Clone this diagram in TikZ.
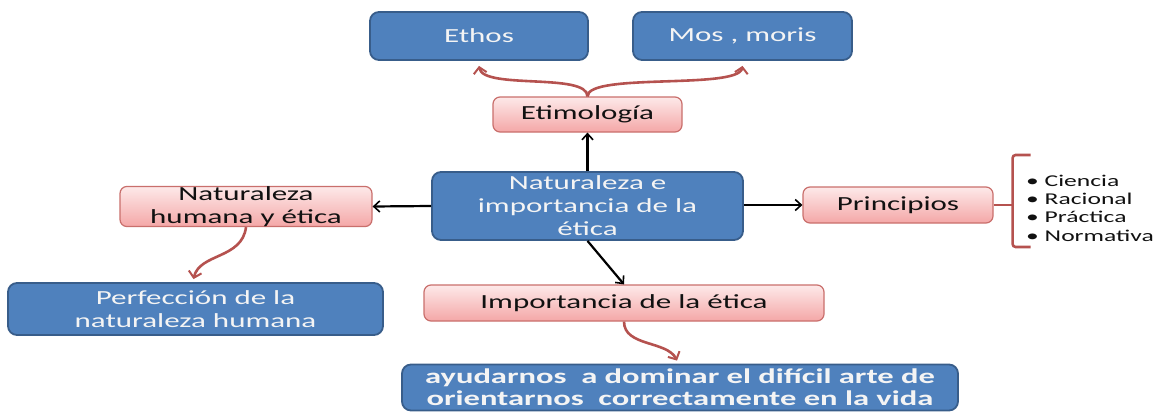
\documentclass[tikz,border=0pt]{standalone}
\usepackage{fontspec}
\setmainfont[FakeStretch=1.55]{Carlito}
\usetikzlibrary{arrows.meta}
\definecolor{color_box_blue}{HTML}{4F81BD}
\definecolor{color_box_blue_edge}{HTML}{385D8A}
\definecolor{color_box_pink_top}{HTML}{FDE9E9}
\definecolor{color_box_pink_bottom}{HTML}{F4A7A7}
\definecolor{color_box_pink_edge}{HTML}{C96F6C}
\definecolor{color_link_red}{HTML}{B5524F}
\definecolor{color_text_dark}{HTML}{111111}
\definecolor{color_text_light}{HTML}{F4F4F4}
\def\boxedgewidth{1.8pt}
\def\linkwidth{2.6pt}
\def\boxtextsize{\fontsize{20}{23}\selectfont}
\def\listtextsize{\fontsize{16.5}{18.4}\selectfont}

\begin{document}
\begin{tikzpicture}[x=1pt,y=-1pt,
    bluebox/.style={draw=color_box_blue_edge,fill=color_box_blue,line width=\boxedgewidth,rounded corners=9pt,
        text=color_text_light,align=center,inner sep=0pt,font=\boxtextsize},
    pinkbox/.style={draw=color_box_pink_edge,top color=color_box_pink_top,bottom color=color_box_pink_bottom,
        line width=1.2pt,rounded corners=7pt,text=color_text_dark,align=center,inner sep=0pt,font=\boxtextsize},
    blackarrow/.style={-{Straight Barb[length=6pt,width=11pt,line width=1.6pt]},line width=2.2pt,black},
    redarrow/.style={-{Straight Barb[length=6pt,width=13pt,line width=2pt]},line width=\linkwidth,color_link_red}]
        \useasboundingbox (0,0) rectangle (1158,412);
        % boxes
        \node[bluebox,minimum width=218pt,minimum height=48pt] (ethos) at (479,36) {Ethos};
        \node[bluebox,minimum width=219pt,minimum height=48pt] (mos) at (742.5,36) {Mos , moris};
        \node[pinkbox,minimum width=189pt,minimum height=35pt] (etim) at (587.5,114.5) {Etimología};
        \node[bluebox,minimum width=311pt,minimum height=68pt] (centro) at (587.5,206) {Naturaleza e\\importancia de la\\ética};
        \node[pinkbox,minimum width=252pt,minimum height=37pt] (nathum) at (246,206.5) {Naturaleza\\humana y ética};
        \node[pinkbox,minimum width=190pt,minimum height=36pt] (princ) at (898,205) {Principios};
        \node[bluebox,minimum width=375pt,minimum height=52pt] (perf) at (195.5,309) {Perfección de la\\naturaleza humana};
        \node[pinkbox,minimum width=400pt,minimum height=36pt] (imp) at (624,303) {Importancia de la ética};
        \node[bluebox,minimum width=556pt,minimum height=46pt,font=\bfseries\fontsize{21}{22}\selectfont] (ayud) at (680,387.5)
            {ayudarnos\ \ a dominar el difícil arte de\\orientarnos\ \ correctamente en la vida};
        \node[anchor=west,align=left,inner sep=0pt,font=\listtextsize,text=color_text_dark] (lista) at (1026,208)
            {• Ciencia\\• Racional\\• Práctica\\• Normativa};
        % black links from the centre
        \draw[blackarrow] (centro.north) -- (etim.south);
        \draw[blackarrow] (centro.west) -- (nathum.east);
        \draw[blackarrow] (centro.east |- princ.west) -- (princ.west);
        \draw[blackarrow] (centro.south) -- (imp.north);
        % red links
        \draw[redarrow] (etim.north) .. controls +(0,-24) and +(4,24) .. ([yshift=-5pt]ethos.south);
        \draw[redarrow] (etim.north) .. controls +(0,-24) and +(-4,24) .. ([yshift=-5pt]mos.south);
        \draw[redarrow] (nathum.south) .. controls +(-4,32) and +(6,-26) .. ([xshift=-2pt,yshift=3pt]perf.north);
        \draw[redarrow] (imp.south) .. controls +(0,25) and +(-10,-20) .. ([xshift=-3pt,yshift=3pt]ayud.north);
        % bracket
        \coordinate (llave) at ([xshift=19pt]princ.east);
        \draw[color_link_red,line width=\linkwidth] (princ.east) -- (llave);
        \draw[color_link_red,line width=\linkwidth,rounded corners=3pt] (llave) ++(18,-50) -- ++(-18,0) -- ++(0,92) -- ++(18,0);
    \end{tikzpicture}
\end{document}
